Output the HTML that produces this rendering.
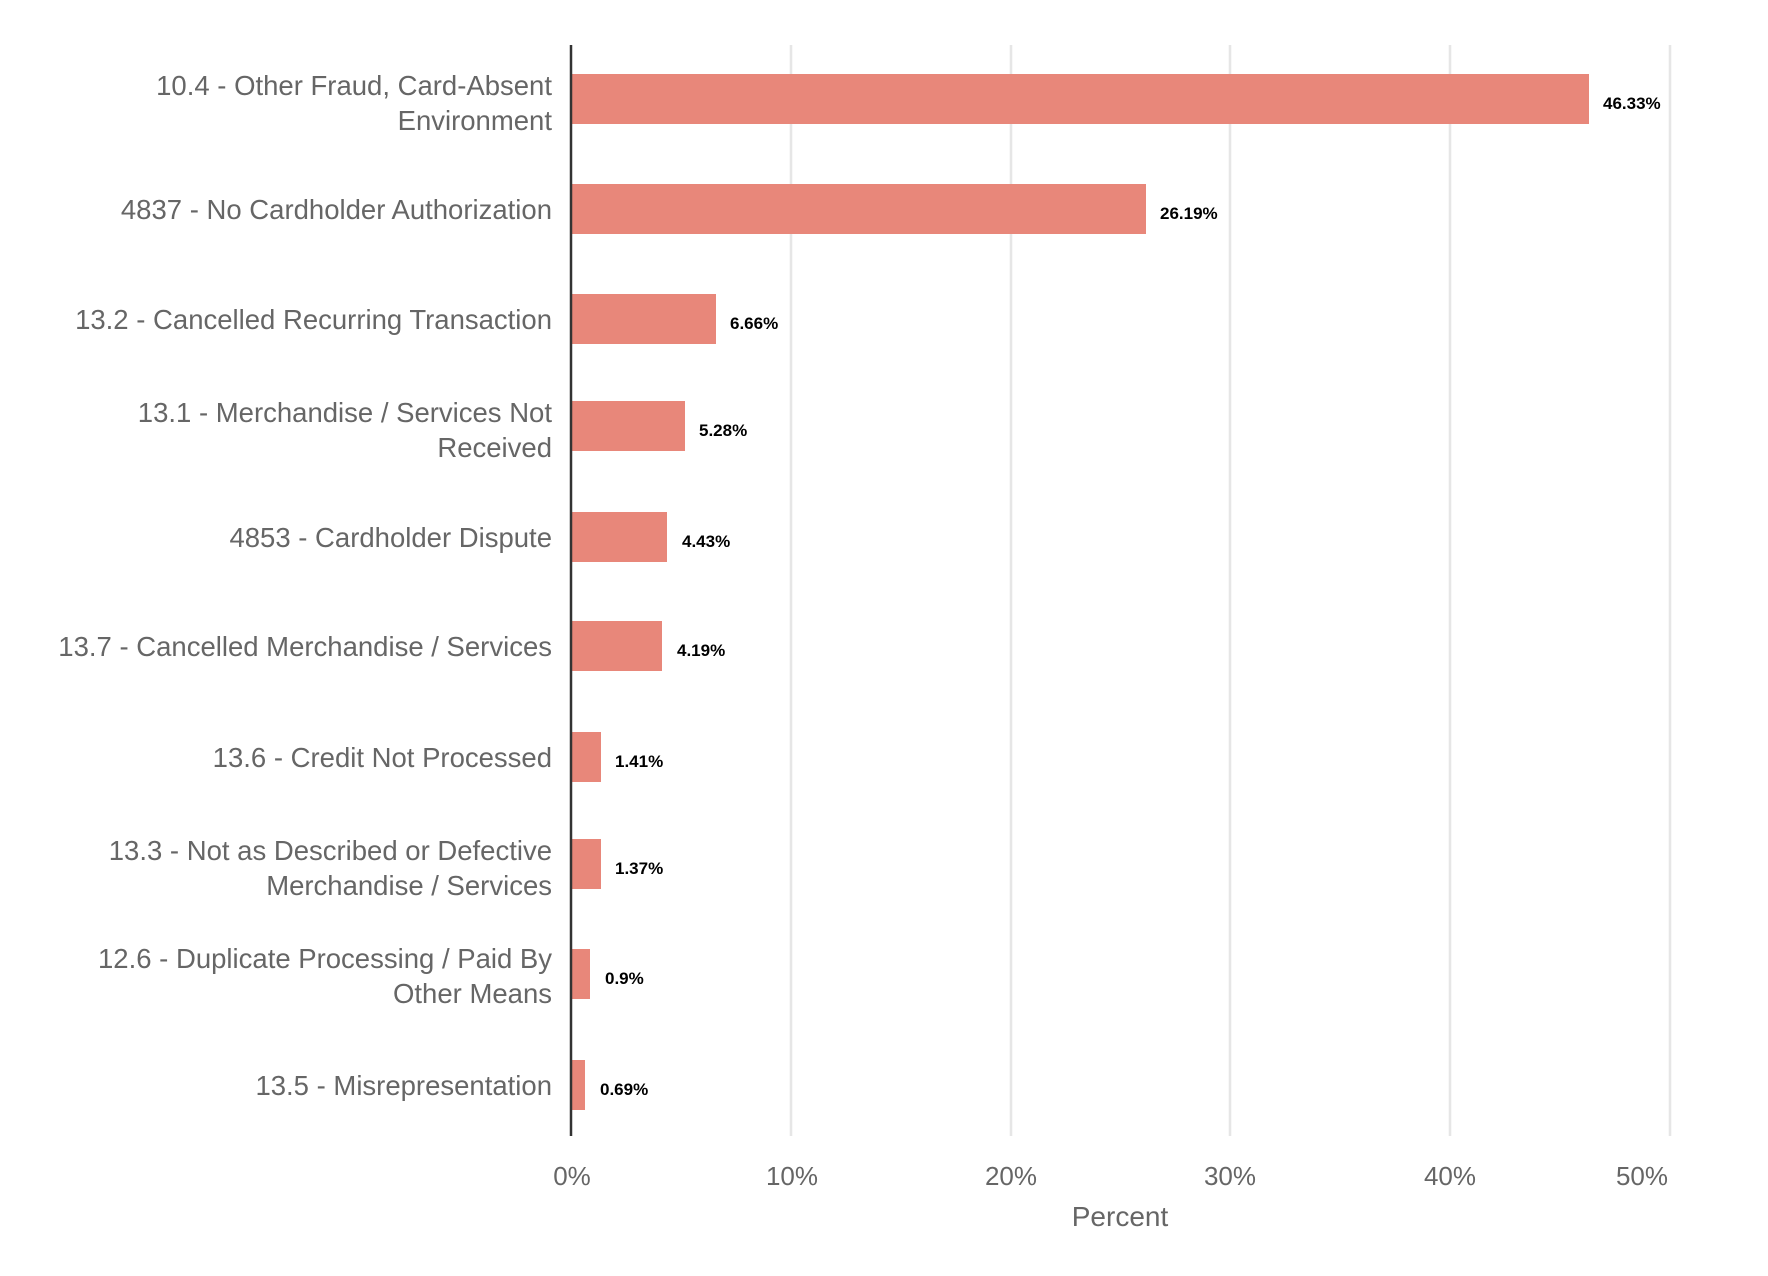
<!DOCTYPE html>
<html><head><meta charset="utf-8"><style>
html,body{margin:0;padding:0;background:#fff;}
svg{display:block;}
</style></head><body>
<svg width="1768" height="1276" viewBox="0 0 1768 1276" xmlns="http://www.w3.org/2000/svg" font-family="Liberation Sans, Arial, sans-serif">
<g stroke="#e6e6e6" stroke-width="2.5">
<line x1="791" y1="45" x2="791" y2="1136"/>
<line x1="1011" y1="45" x2="1011" y2="1136"/>
<line x1="1230" y1="45" x2="1230" y2="1136"/>
<line x1="1450" y1="45" x2="1450" y2="1136"/>
<line x1="1670" y1="45" x2="1670" y2="1136"/>
</g>
<g fill="#e8877a">
<rect x="572" y="74" width="1017" height="50"/>
<rect x="572" y="184" width="574" height="50"/>
<rect x="572" y="294" width="144" height="50"/>
<rect x="572" y="401" width="113" height="50"/>
<rect x="572" y="512" width="95" height="50"/>
<rect x="572" y="621" width="90" height="50"/>
<rect x="572" y="732" width="29" height="50"/>
<rect x="572" y="839" width="29" height="50"/>
<rect x="572" y="949" width="18" height="50"/>
<rect x="572" y="1060" width="13" height="50"/>
</g>
<line x1="571" y1="45" x2="571" y2="1136" stroke="#333" stroke-width="2.5"/>
<g font-size="17" font-weight="bold" fill="#000">
<text x="1603" y="109">46.33%</text>
<text x="1160" y="219">26.19%</text>
<text x="730" y="329">6.66%</text>
<text x="699" y="436">5.28%</text>
<text x="682" y="547">4.43%</text>
<text x="677" y="656">4.19%</text>
<text x="615" y="767">1.41%</text>
<text x="615" y="874">1.37%</text>
<text x="605" y="984">0.9%</text>
<text x="600" y="1095">0.69%</text>
</g>
<g font-size="27.5" fill="#666" text-anchor="end">
<text x="552" y="95">10.4 - Other Fraud, Card-Absent</text>
<text x="552" y="130">Environment</text>
<text x="552" y="219">4837 - No Cardholder Authorization</text>
<text x="552" y="329">13.2 - Cancelled Recurring Transaction</text>
<text x="552" y="422">13.1 - Merchandise / Services Not</text>
<text x="552" y="457">Received</text>
<text x="552" y="547">4853 - Cardholder Dispute</text>
<text x="552" y="656">13.7 - Cancelled Merchandise / Services</text>
<text x="552" y="767">13.6 - Credit Not Processed</text>
<text x="552" y="860">13.3 - Not as Described or Defective</text>
<text x="552" y="895">Merchandise / Services</text>
<text x="552" y="968">12.6 - Duplicate Processing / Paid By</text>
<text x="552" y="1003">Other Means</text>
<text x="552" y="1095">13.5 - Misrepresentation</text>
</g>
<g font-size="26" fill="#666" text-anchor="middle">
<text x="572" y="1185">0%</text>
<text x="792" y="1185">10%</text>
<text x="1011" y="1185">20%</text>
<text x="1230" y="1185">30%</text>
<text x="1450" y="1185">40%</text>
<text x="1642" y="1185">50%</text>
<text x="1120" y="1226" font-size="28">Percent</text>
</g>
</svg>
</body></html>
